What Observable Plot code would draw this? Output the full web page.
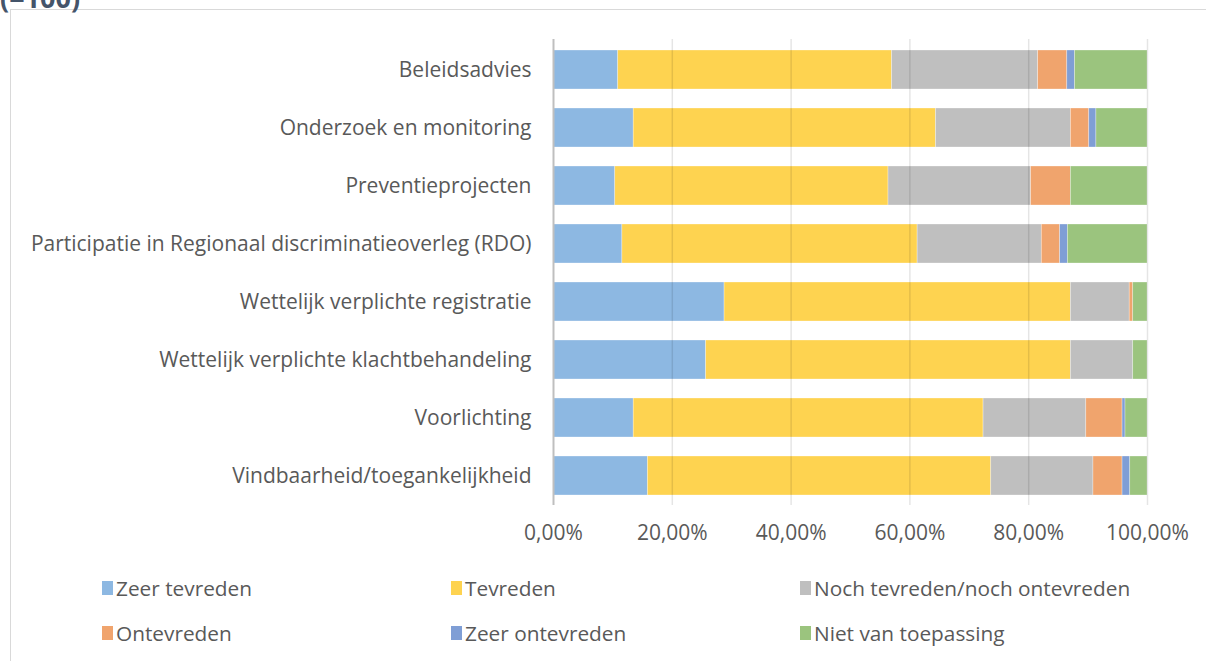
<!DOCTYPE html>
<html>
<head>
<meta charset="utf-8">
<script src="https://cdn.jsdelivr.net/npm/d3@7"></script>
<script src="https://cdn.jsdelivr.net/npm/@observablehq/plot@0.6"></script>
<style>
  html, body { margin: 0; padding: 0; background: #fff; width: 1206px; height: 661px; overflow: hidden; }
  #wrap { position: relative; width: 1206px; height: 661px; font-family: "Open Sans", sans-serif; }
  #frame { position: absolute; left: 10px; top: 9px; width: 1300px; height: 800px; border: 1.5px solid #d9d9d9; box-sizing: border-box; }
  #title { position: absolute; left: 0; top: -21px; font-size: 27px; font-weight: bold; color: #44546A; white-space: nowrap; }
  #chart { position: absolute; left: 0; top: 0; }
  .leg { position: absolute; font-size: 20.8px; color: #595959; display: flex; align-items: center; white-space: nowrap; }
  .sw { width: 11px; height: 14px; margin-right: 3px; display: inline-block; }
</style>
</head>
<body>
<div id="wrap">
  <div id="frame"></div>
  <div id="title">(=100)</div>
  <div id="chart"></div>
  <div id="legend"></div>
</div>
<script>
const categories = [
  "Beleidsadvies",
  "Onderzoek en monitoring",
  "Preventieprojecten",
  "Participatie in Regionaal discriminatieoverleg (RDO)",
  "Wettelijk verplichte registratie",
  "Wettelijk verplichte klachtbehandeling",
  "Voorlichting",
  "Vindbaarheid/toegankelijkheid"
];
const series = ["Zeer tevreden", "Tevreden", "Noch tevreden/noch ontevreden", "Ontevreden", "Zeer ontevreden", "Niet van toepassing"];
const colors = ["#8DB8E2", "#FED350", "#BFBFBF", "#F0A46D", "#7F9ED5", "#9BC47E"];

const zeerTevreden     = [10.9, 13.5, 10.4, 11.6, 28.8, 25.7, 13.5, 15.9];
const tevreden         = [46.1, 50.9, 46.0, 49.7, 58.3, 61.4, 58.9, 57.8];
const noch             = [24.6, 22.7, 24.0, 20.9,  9.9, 10.5, 17.3, 17.2];
const ontevreden       = [ 4.9,  3.1,  6.7,  3.1,  0.6,  0.0,  6.1,  4.9];
const zeerOntevreden   = [ 1.3,  1.2,  0.0,  1.3,  0.0,  0.0,  0.5,  1.3];
const nietVanToepassing= [12.2,  8.6, 12.9, 13.4,  2.4,  2.4,  3.7,  2.9];
const xTicks = [0, 0.2, 0.4, 0.6, 0.8, 1.0];

const valueSets = [zeerTevreden, tevreden, noch, ontevreden, zeerOntevreden, nietVanToepassing];
const data = [];
categories.forEach((c, i) => {
  series.forEach((s, j) => {
    data.push({category: c, series: s, value: valueSets[j][i] / 100});
  });
});

const fmt = v => (v * 100).toFixed(2).replace(".", ",") + "%";

const plot = Plot.plot({
  width: 1206,
  height: 560,
  marginLeft: 553,
  marginRight: 59,
  marginTop: 39,
  marginBottom: 55,
  style: {fontFamily: "Open Sans, sans-serif", fontSize: "21px", color: "#595959", background: "transparent"},
  x: {domain: [0, 1], ticks: xTicks, tickFormat: fmt, tickSize: 0, tickPadding: 20, label: null},
  y: {domain: categories, paddingInner: 0.33, paddingOuter: 0.16, tickSize: 0, tickPadding: 22, label: null},
  color: {domain: series, range: colors},
  marks: [
    Plot.barX(data, Plot.stackX({
      y: "category",
      x: "value",
      fill: "series",
      order: series,
      stroke: "white",
      strokeWidth: 0.6,
      strokeOpacity: 0.5
    })),
    Plot.ruleX(xTicks.filter(d => d > 0), {stroke: "#000", strokeOpacity: 0.1, strokeWidth: 1.5}),
    Plot.ruleX([0], {stroke: "#bfbfbf", strokeWidth: 2})
  ]
});
document.getElementById("chart").appendChild(plot);

// legend
const legPos = [
  [102, 588], [451, 588], [800, 588],
  [102, 633], [451, 633], [800, 633]
];
const legend = document.getElementById("legend");
series.forEach((s, i) => {
  const d = document.createElement("div");
  d.className = "leg";
  d.style.left = legPos[i][0] + "px";
  d.style.top = (legPos[i][1] - 14) + "px";
  d.style.height = "28px";
  const sw = document.createElement("span");
  sw.className = "sw";
  sw.style.background = colors[i];
  d.appendChild(sw);
  d.appendChild(document.createTextNode(s));
  legend.appendChild(d);
});
</script>
</body>
</html>
